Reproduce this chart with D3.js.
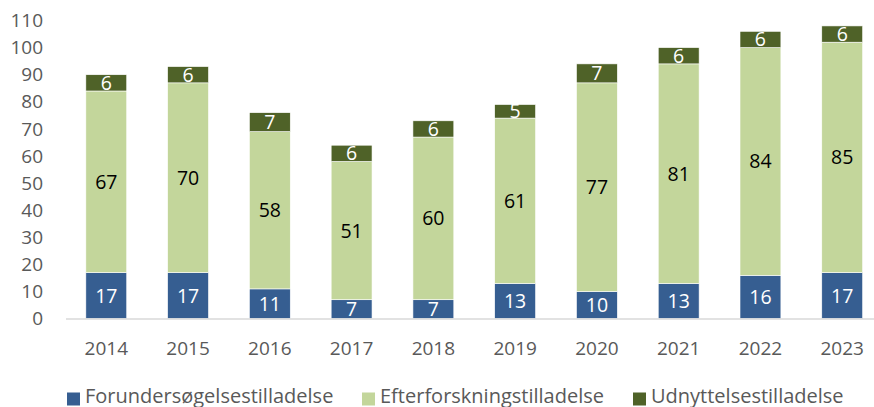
<!DOCTYPE html>
<html><head><meta charset="utf-8">
<script src="https://cdn.jsdelivr.net/npm/d3@7"></script>
<style>body{margin:0;background:#fff;} svg{display:block;}</style>
</head><body>
<script>
const years = ["2014","2015","2016","2017","2018","2019","2020","2021","2022","2023"];
const forunders = [17,17,11,7,7,13,10,13,16,17];
const efterforsk = [67,70,58,51,60,61,77,81,84,85];
const udnyttelse = [6,6,7,6,6,5,7,6,6,6];
const seriesNames = ["Forundersøgelsestilladelse","Efterforskningstilladelse","Udnyttelsestilladelse"];
const seriesColors = ["#365E91","#C3D69B","#4F6228"];
const labelColors = ["#ffffff","#000000","#ffffff"];
const yTicks = [0,10,20,30,40,50,60,70,80,90,100,110];

const W = 874, H = 407;
const font = "'Open Sans', sans-serif";
const svg = d3.select("body").append("svg").attr("width", W).attr("height", H);

const rows = years.map((y,i)=>({year:y, s0:forunders[i], s1:efterforsk[i], s2:udnyttelse[i]}));
const stack = d3.stack().keys(["s0","s1","s2"])(rows);

const x = d3.scaleBand().domain(years).range([65.4, 883.1]).paddingInner(0.5).paddingOuter(0.25);
const y = d3.scaleLinear().domain([0,110]).range([318.7, 20.5]);

// y axis labels
const yAxis = d3.axisLeft(y).tickValues(yTicks).tickSize(0).tickPadding(0);
const gy = svg.append("g").attr("transform","translate(43,0)").call(yAxis);
gy.select(".domain").remove();
gy.selectAll("text").attr("fill","#595959").style("font-family",font).style("font-size","19px");

// bars
stack.forEach((layer, si)=>{
  const g = svg.append("g");
  g.selectAll("rect").data(layer).enter().append("rect")
    .attr("x", d=>x(d.data.year))
    .attr("width", x.bandwidth())
    .attr("y", d=>y(d[1]))
    .attr("height", d=>y(d[0])-y(d[1]))
    .attr("fill", seriesColors[si])
    .attr("stroke","#ffffff").attr("stroke-width",0.6);
  g.selectAll("text").data(layer).enter().append("text")
    .attr("x", d=>x(d.data.year)+x.bandwidth()/2)
    .attr("y", d=>(y(d[0])+y(d[1]))/2)
    .attr("dy","0.36em")
    .attr("text-anchor","middle")
    .attr("fill", labelColors[si])
    .style("font-family",font).style("font-size","19.5px")
    .text(d=>d[1]-d[0]);
});

// x axis
const xAxis = d3.axisBottom(x).tickSize(0).tickPadding(0);
const gx = svg.append("g").attr("transform","translate(0,318.7)").call(xAxis);
gx.select(".domain").remove();
gx.selectAll("text").attr("y",36).attr("dy","0").attr("fill","#595959").style("font-family",font).style("font-size","19px");
svg.append("line").attr("x1",66).attr("x2",874).attr("y1",318.9).attr("y2",318.9)
  .attr("stroke","#d9d9d9").attr("stroke-width",1.5);

// legend
const legX = [67, 362, 633];
const leg = svg.append("g");
seriesNames.forEach((n,i)=>{
  leg.append("rect").attr("x",legX[i]).attr("y",392.5).attr("width",13).attr("height",13).attr("fill",seriesColors[i]);
  leg.append("text").attr("x",legX[i]+18).attr("y",402.5).attr("fill","#595959")
    .style("font-family",font).style("font-size","20px").text(n);
});
</script>
</body></html>
